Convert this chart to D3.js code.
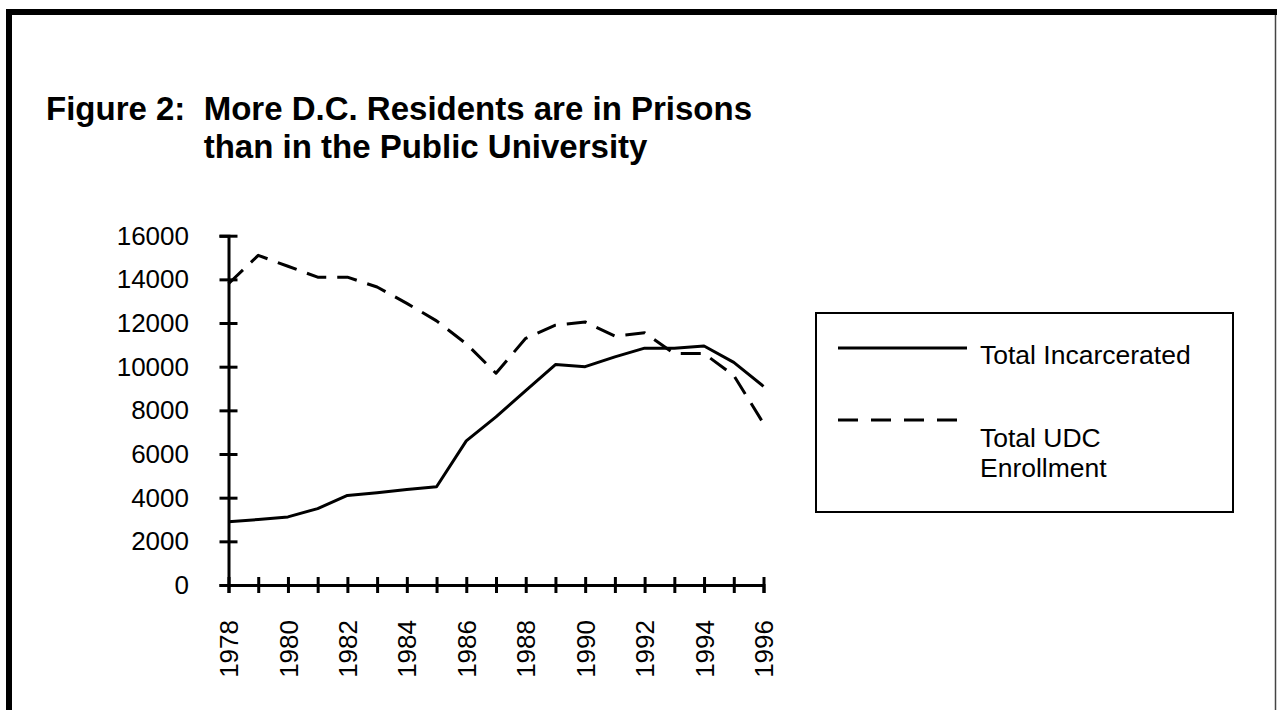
<!DOCTYPE html>
<html>
<head>
<meta charset="utf-8">
<script src="https://cdn.jsdelivr.net/npm/d3@7"></script>
<style>
  html, body { margin: 0; padding: 0; background: #fff; }
  svg { display: block; }
  text { font-family: "Liberation Sans", Arial, Helvetica, sans-serif; fill: #000; }
</style>
</head>
<body>
<svg id="chart" width="1277" height="710"></svg>
<script>
// ---- data ----
const years = [1978,1979,1980,1981,1982,1983,1984,1985,1986,1987,1988,1989,1990,1991,1992,1993,1994,1995,1996];
const incarcerated = [2900,3000,3120,3500,4100,4230,4370,4500,6600,7700,8900,10100,10000,10450,10850,10850,10950,10200,9100];
const udcEnrollment = [13800,15100,14600,14100,14100,13650,12900,12100,11050,9700,11300,11900,12050,11400,11550,10600,10600,9600,7400];
const yTicks = [0,2000,4000,6000,8000,10000,12000,14000,16000];
const xLabelYears = [1978,1980,1982,1984,1986,1988,1990,1992,1994,1996];
const seriesNames = ["Total Incarcerated", "Total UDC|Enrollment"];
const titleLabel = "Figure 2:  ";
const titleLines = ["More D.C. Residents are in Prisons", "than in the Public University"];

const svg = d3.select("#chart");

// frame
svg.append("line").attr("x1", 9).attr("x2", 9).attr("y1", 9).attr("y2", 710).attr("stroke", "#000").attr("stroke-width", 6);
svg.append("line").attr("x1", 6).attr("x2", 1277).attr("y1", 12).attr("y2", 12).attr("stroke", "#000").attr("stroke-width", 6);
svg.append("line").attr("x1", 1275.5).attr("x2", 1275.5).attr("y1", 15).attr("y2", 710).attr("stroke", "#444").attr("stroke-width", 1.5);

// title (second line hangs under "More")
const t1 = svg.append("text").attr("x", 46).attr("y", 120).attr("font-size", 33).attr("font-weight", "bold").style("white-space", "pre")
  .text(titleLabel + titleLines[0]);
const indent = t1.node().getSubStringLength(0, titleLabel.length);
svg.append("text").attr("x", 46 + indent).attr("y", 158).attr("font-size", 33).attr("font-weight", "bold").text(titleLines[1]);

// scales
const x = d3.scaleLinear().domain([1978, 1996]).range([228.5, 763.5]);
const y = d3.scaleLinear().domain([0, 16000]).range([585, 235.7]);

// y axis
const yAxis = svg.append("g").attr("transform", `translate(${x(1978)},0)`)
  .call(d3.axisLeft(y).tickValues(yTicks).tickFormat(d3.format("d")).tickSizeOuter(0).tickSize(9).tickPadding(30));
yAxis.select(".domain").attr("stroke-width", 3);
yAxis.selectAll(".tick line").attr("x1", -9).attr("x2", 9).attr("stroke-width", 3);
yAxis.selectAll(".tick text").attr("font-size", 26).attr("font-family", "Liberation Sans, Arial, sans-serif").attr("x", -39.5);

// x axis
const xAxis = svg.append("g").attr("transform", `translate(0,${y(0)})`)
  .call(d3.axisBottom(x).tickValues(years).tickSizeOuter(0).tickSize(8).tickFormat(d => xLabelYears.includes(d) ? String(d) : ""));
xAxis.select(".domain").attr("stroke-width", 3);
xAxis.selectAll(".tick line").attr("y1", -8).attr("y2", 8).attr("stroke-width", 3);
xAxis.selectAll(".tick text")
  .attr("font-size", 26).attr("font-family", "Liberation Sans, Arial, sans-serif")
  .attr("text-anchor", "end").attr("x", 0).attr("y", 0).attr("dy", "0.35em")
  .attr("transform", "translate(0,35) rotate(-90)");

// lines
const line = d3.line().x((d, i) => x(years[i])).y(d => y(d));
svg.append("path").datum(incarcerated).attr("d", line).attr("fill", "none")
  .attr("stroke", "#000").attr("stroke-width", 3).attr("stroke-linejoin", "round");
svg.append("path").datum(udcEnrollment).attr("d", line).attr("fill", "none")
  .attr("stroke", "#000").attr("stroke-width", 3).attr("stroke-dasharray", "20,11").attr("stroke-linejoin", "round");

// legend
const lg = svg.append("g");
lg.append("rect").attr("x", 816).attr("y", 313).attr("width", 417).attr("height", 199)
  .attr("fill", "none").attr("stroke", "#000").attr("stroke-width", 2);
lg.append("line").attr("x1", 838).attr("x2", 967).attr("y1", 348).attr("y2", 348).attr("stroke", "#000").attr("stroke-width", 3);
lg.append("text").attr("x", 980).attr("y", 364).attr("font-size", 26.5).text(seriesNames[0]);
lg.append("line").attr("x1", 838).attr("x2", 967).attr("y1", 420).attr("y2", 420).attr("stroke", "#000").attr("stroke-width", 3).attr("stroke-dasharray", "20,13");
const parts = seriesNames[1].split("|");
lg.append("text").attr("x", 980).attr("y", 447).attr("font-size", 26.5).text(parts[0]);
lg.append("text").attr("x", 980).attr("y", 477).attr("font-size", 26.5).text(parts[1]);
</script>
</body>
</html>
